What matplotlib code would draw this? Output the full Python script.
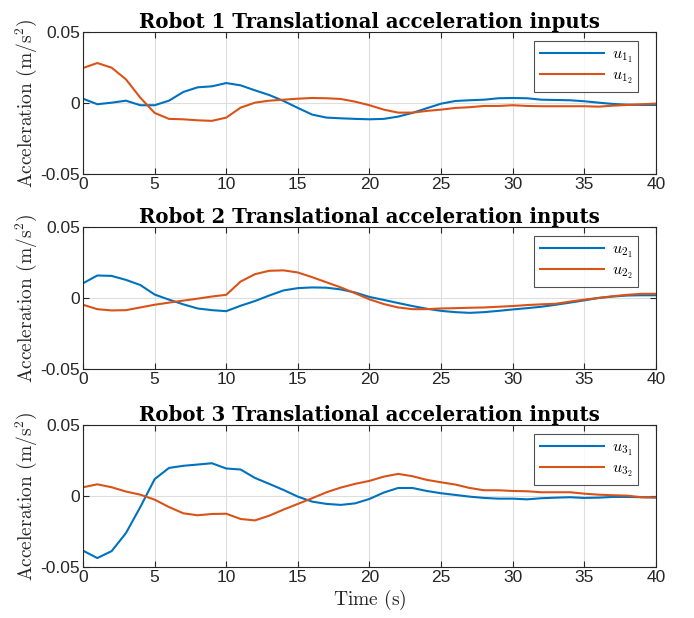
import numpy as np
import matplotlib
matplotlib.use("Agg")
import matplotlib.pyplot as plt

# Dados (t = 0..40 s, passo 1 s)
t = np.arange(0, 41)

u11 = [0.0030, -0.0009, 0.0002, 0.0016, -0.0016, -0.0016, 0.0016, 0.0077, 0.0110, 0.0117,
       0.0140, 0.0124, 0.0089, 0.0056, 0.0014, -0.0035, -0.0082, -0.0103, -0.0108, -0.0112,
       -0.0115, -0.0112, -0.0096, -0.0070, -0.0037, -0.0005, 0.0014, 0.0019, 0.0023, 0.0033,
       0.0035, 0.0033, 0.0023, 0.0021, 0.0019, 0.0012, 0.0002, -0.0007, -0.0012, -0.0014, -0.0014]
u12 = [0.0246, 0.0281, 0.0248, 0.0166, 0.0037, -0.0070, -0.0112, -0.0115, -0.0122, -0.0126,
       -0.0103, -0.0033, 0.0002, 0.0016, 0.0023, 0.0030, 0.0035, 0.0033, 0.0028, 0.0009,
       -0.0016, -0.0047, -0.0068, -0.0068, -0.0056, -0.0047, -0.0035, -0.0030, -0.0021, -0.0021,
       -0.0016, -0.0021, -0.0023, -0.0023, -0.0023, -0.0023, -0.0026, -0.0019, -0.0014, -0.0009, -0.0005]

u21 = [0.0103, 0.0158, 0.0155, 0.0127, 0.0091, 0.0024, -0.0012, -0.0045, -0.0074, -0.0086,
       -0.0093, -0.0055, -0.0022, 0.0017, 0.0053, 0.0069, 0.0074, 0.0072, 0.0060, 0.0038,
       0.0007, -0.0014, -0.0036, -0.0057, -0.0076, -0.0091, -0.0100, -0.0105, -0.0100, -0.0091,
       -0.0081, -0.0072, -0.0062, -0.0048, -0.0033, -0.0017, 0.0000, 0.0010, 0.0017, 0.0019, 0.0019]
u22 = [-0.0048, -0.0079, -0.0088, -0.0086, -0.0067, -0.0048, -0.0033, -0.0019, -0.0005, 0.0010,
       0.0022, 0.0115, 0.0167, 0.0191, 0.0194, 0.0179, 0.0146, 0.0110, 0.0074, 0.0033,
       -0.0010, -0.0043, -0.0067, -0.0079, -0.0079, -0.0074, -0.0072, -0.0069, -0.0067, -0.0062,
       -0.0057, -0.0050, -0.0045, -0.0041, -0.0026, -0.0012, 0.0000, 0.0012, 0.0022, 0.0029, 0.0029]

u31 = [-0.0385, -0.0437, -0.0388, -0.0261, -0.0078, 0.0118, 0.0197, 0.0212, 0.0221, 0.0230,
       0.0193, 0.0186, 0.0127, 0.0085, 0.0042, -0.0005, -0.0040, -0.0056, -0.0063, -0.0052,
       -0.0021, 0.0024, 0.0056, 0.0056, 0.0035, 0.0019, 0.0007, -0.0005, -0.0014, -0.0019,
       -0.0019, -0.0024, -0.0016, -0.0012, -0.0009, -0.0014, -0.0012, -0.0007, -0.0007, -0.0009, -0.0009]
u32 = [0.0061, 0.0082, 0.0061, 0.0031, 0.0009, -0.0026, -0.0078, -0.0122, -0.0136, -0.0127,
       -0.0125, -0.0162, -0.0172, -0.0139, -0.0096, -0.0056, -0.0016, 0.0026, 0.0059, 0.0085,
       0.0106, 0.0136, 0.0155, 0.0139, 0.0113, 0.0096, 0.0080, 0.0056, 0.0040, 0.0040,
       0.0035, 0.0033, 0.0026, 0.0026, 0.0026, 0.0016, 0.0009, 0.0005, 0.0002, -0.0009, -0.0012]

series = [(u11, u12), (u21, u22), (u31, u32)]
yticks = [-0.05, 0, 0.05]
ytick_labels = ["-0.05", "0", "0.05"]

azul = "#0072BD"
laranja = "#D95319"
cinza = "#262626"

plt.rcParams["mathtext.fontset"] = "cm"

fig = plt.figure(figsize=(6.94, 6.18), dpi=100)

bottoms = [0.7184, 0.4029, 0.0825]
for i, (a, b) in enumerate(series):
    ax = fig.add_axes([0.1196, bottoms[i], 0.8256, 0.2300])
    ax.plot(t, a, color=azul, lw=1.5, label=r"$u_{%d_1}$" % (i + 1))
    ax.plot(t, b, color=laranja, lw=1.5, label=r"$u_{%d_2}$" % (i + 1))
    ax.set_xlim(0, 40)
    ax.set_ylim(-0.05, 0.05)
    ax.set_xticks(np.arange(0, 41, 5))
    ax.set_yticks(yticks)
    ax.set_yticklabels(ytick_labels)
    ax.grid(True, color="#dedede", lw=0.8)
    ax.tick_params(direction="in", top=True, right=True, length=4, width=0.8,
                   colors=cinza, labelsize=12.5, pad=2)
    for lab in ax.get_xticklabels() + ax.get_yticklabels():
        lab.set_fontfamily("Liberation Sans")
    for s in ax.spines.values():
        s.set_color(cinza)
        s.set_linewidth(0.8)
    ax.set_title("Robot %d Translational acceleration inputs" % (i + 1),
                 fontfamily="DejaVu Serif", fontweight="bold", fontsize=14.2, pad=3)
    ax.set_ylabel(r"Acceleration $(\mathrm{m/s^2})$", fontfamily="cmr10",
                  fontsize=14, color=cinza, labelpad=1)
    leg = ax.legend(loc="upper right", bbox_to_anchor=(0.9686, 0.937),
                    borderaxespad=0, fontsize=11.5, frameon=True, fancybox=False,
                    edgecolor=cinza, handlelength=4.0, labelspacing=0.15,
                    borderpad=0.35, handletextpad=0.5)
    leg.get_frame().set_linewidth(0.8)
    if i == 2:
        ax.set_xlabel(r"Time $(\mathrm{s})$", fontfamily="cmr10", fontsize=14,
                      color=cinza, labelpad=2)

fig.savefig("out.png", dpi=100)
